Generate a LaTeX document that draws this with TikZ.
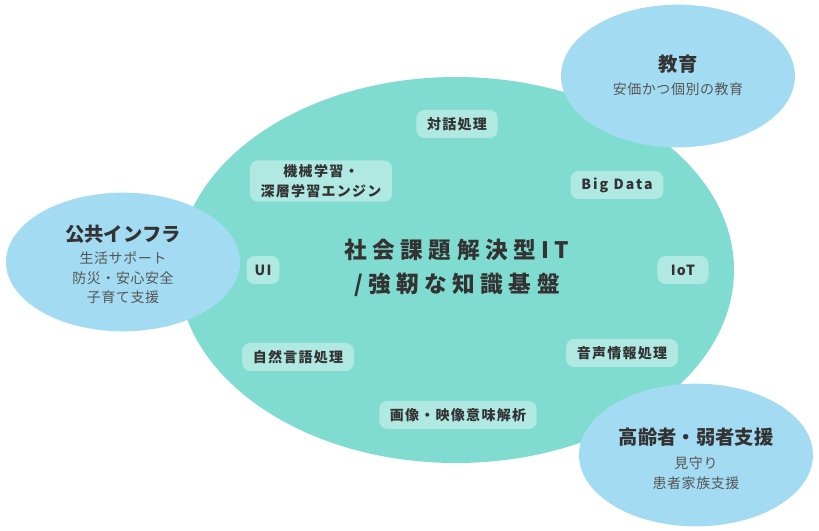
\documentclass[tikz,border=0pt]{standalone}
\usepackage{fontspec}
\setmainfont{Noto Sans CJK JP}
\usetikzlibrary{positioning,shapes.geometric}

\definecolor{coreteal}{HTML}{80DCD0}
\definecolor{skyblue}{HTML}{A3DCF2}
\definecolor{pillteal}{HTML}{B0E9E2}
\definecolor{ink}{HTML}{333333}
\definecolor{subink}{HTML}{555555}

\tikzstyle{field}=[ellipse, fill=skyblue, inner sep=0pt,
        minimum width=175.5pt, minimum height=107pt]
\tikzstyle{head}=[text=ink, font=\fontsize{14.5}{18}\selectfont\bfseries]
\tikzstyle{sub}=[text=subink, align=center,
        font=\fontsize{10.5}{14.6}\selectfont\addfontfeature{LetterSpace=4}]
\tikzstyle{tag}=[fill=pillteal, rounded corners=6pt, text=ink, align=center,
        font=\fontsize{10.5}{15}\selectfont\bfseries\addfontfeature{LetterSpace=9},
        inner xsep=8pt, inner ysep=0pt, minimum height=21pt]

\begin{document}
\begin{tikzpicture}[x=0.75pt, y=-0.75pt]
        \useasboundingbox (0,0) rectangle (819,531);

        % core
        \node[ellipse, fill=coreteal, minimum width=417pt, minimum height=289.5pt]
            (core) at (456,270) {};
        \node[align=center, text=ink,
            font=\fontsize{17}{26}\selectfont\bfseries\addfontfeature{LetterSpace=24}]
            (title) at (457,268) {社会課題解決型IT\\/強靭な知識基盤};

        % fields
        \node[field] (edu) at (678,76) {};
        \node[head] (eduhead) at (678,64) {教育};
        \node[sub] (edusub) at (678,89) {安価かつ個別の教育};

        \node[field, minimum height=104pt] (infra) at (123,262) {};
        \node[head] (infrahead) at (123,234) {公共インフラ};
        \node[sub] (infrasub) at (123,278) {生活サポート\\防災・安心安全\\子育て支援};

        \node[field] (care) at (696,455) {};
        \node[head] (carehead) at (696,437) {高齢者・弱者支援};
        \node[sub] (caresub) at (696,473) {見守り\\患者家族支援};

        % technologies
        \node[tag] (dialog) at (457,124) {対話処理};
        \node[tag, minimum height=31pt] (ml) at (321,181) {機械学習・\\深層学習エンジン};
        \node[tag, font=\fontsize{10.5}{15}\selectfont\bfseries\addfontfeature{LetterSpace=15}]
            (bigdata) at (617,185) {Big Data};
        \node[tag, inner xsep=6pt] (ui) at (263,270) {UI};
        \node[tag, inner xsep=10pt] (iot) at (683,270) {IoT};
        \node[tag] (nlp) at (298,357) {自然言語処理};
        \node[tag] (speech) at (622,353) {音声情報処理};
        \node[tag] (vision) at (458,415) {画像・映像意味解析};

\end{tikzpicture}
\end{document}
